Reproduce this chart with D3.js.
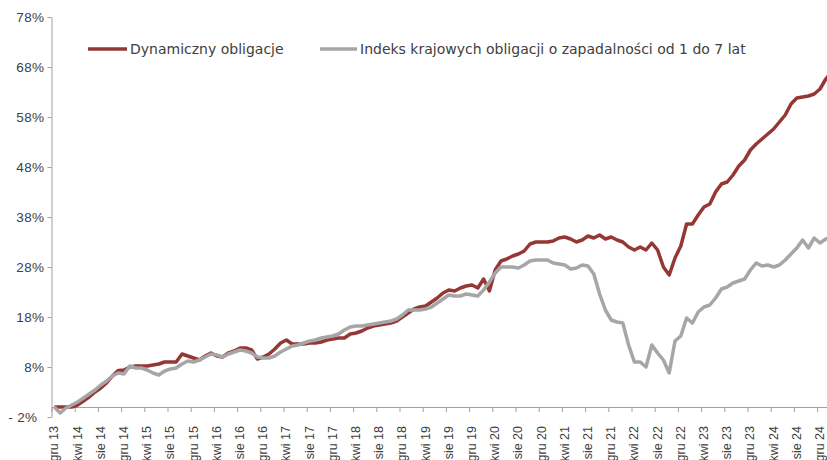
<!DOCTYPE html>
<html lang="pl">
<head>
    <meta charset="UTF-8">
    <title>Dynamiczny obligacje</title>
    <script type="text/javascript" src="https://cdn.jsdelivr.net/npm/d3@7"></script>
    <style>
        body { margin: 0; background: #fff; }
        svg { display: block; }
    </style>
</head>
<body>
    <script type="text/javascript">

        //Width and height
        var w = 827;
        var h = 460;

        //Seria: Dynamiczny obligacje (%), miesięcznie od gru 13
        var dynamiczny = [
            0, 0, 0, 0, 0.4, 1.2, 2.0, 3.0, 3.8, 4.8,
            6.2, 7.3, 7.4, 8.0, 8.2, 8.2, 8.2, 8.4, 8.6, 9.0,
            9.0, 9.0, 10.6, 10.2, 9.8, 9.4, 10.2, 10.8, 10.2, 10.0,
            10.8, 11.2, 11.8, 11.8, 11.4, 9.6, 10.0, 10.6, 11.6, 12.8,
            13.4, 12.6, 12.6, 12.6, 12.8, 12.8, 13.0, 13.4, 13.6, 13.8,
            13.8, 14.6, 14.8, 15.2, 15.8, 16.2, 16.4, 16.6, 16.8, 17.2,
            18.0, 18.8, 19.6, 20.0, 20.2, 21.0, 21.8, 22.8, 23.4, 23.2,
            23.8, 24.2, 24.4, 23.8, 25.6, 23.2, 27.4, 29.2, 29.6, 30.2,
            30.6, 31.2, 32.6, 33.0, 33.0, 33.0, 33.2, 33.8, 34.0, 33.6,
            33.0, 33.4, 34.2, 33.8, 34.4, 33.6, 34.0, 33.4, 33.0, 32.0,
            31.4, 32.0, 31.4, 32.8, 31.4, 28.0, 26.4, 29.8, 32.2, 36.6,
            36.6, 38.4, 40.0, 40.6, 43.0, 44.6, 45.0, 46.4, 48.2, 49.4,
            51.4, 52.6, 53.6, 54.6, 55.6, 57.0, 58.4, 60.6, 61.8, 62.0,
            62.2, 62.6, 63.6, 65.6, 67.0
        ];

        //Seria: Indeks krajowych obligacji o zapadalności od 1 do 7 lat (%)
        var indeks = [
            0, -1.2, -0.2, 0.4, 1.0, 1.8, 2.6, 3.4, 4.4, 5.2,
            6.2, 6.8, 6.6, 8.2, 7.8, 7.8, 7.4, 6.8, 6.4, 7.2,
            7.6, 7.8, 8.6, 9.2, 9.0, 9.4, 10.0, 10.6, 10.4, 10.0,
            10.6, 11.0, 11.4, 11.2, 10.8, 10.0, 9.8, 9.8, 10.2, 11.0,
            11.6, 12.2, 12.4, 12.8, 13.2, 13.4, 13.8, 14.0, 14.2, 14.6,
            15.4, 16.0, 16.2, 16.2, 16.4, 16.6, 16.8, 17.0, 17.2, 17.6,
            18.4, 19.4, 19.4, 19.4, 19.6, 20.0, 20.8, 21.6, 22.4, 22.2,
            22.2, 22.6, 22.4, 22.2, 23.4, 25.0, 26.8, 28.0, 28.0, 28.0,
            27.8, 28.4, 29.2, 29.4, 29.4, 29.4, 28.8, 28.6, 28.4, 27.6,
            27.8, 28.4, 28.2, 26.6, 22.6, 19.4, 17.4, 17.0, 16.8, 12.4,
            9.0, 9.0, 8.0, 12.4, 10.8, 9.4, 6.8, 13.2, 14.2, 17.8,
            16.8, 19.0, 20.0, 20.4, 21.8, 23.6, 24.0, 24.8, 25.2, 25.6,
            27.4, 28.8, 28.2, 28.4, 28.0, 28.4, 29.4, 30.6, 31.8, 33.4,
            31.8, 33.8, 32.8, 33.6, 34.0
        ];

        //Etykiety osi X (co 4 miesiące)
        var tickLabels = [
            "gru 13", "kwi 14", "sie 14", "gru 14", "kwi 15", "sie 15", "gru 15",
            "kwi 16", "sie 16", "gru 16", "kwi 17", "sie 17", "gru 17", "kwi 18",
            "sie 18", "gru 18", "kwi 19", "sie 19", "gru 19", "kwi 20", "sie 20",
            "gru 20", "kwi 21", "sie 21", "gru 21", "kwi 22", "sie 22", "gru 22",
            "kwi 23", "sie 23", "gru 23", "kwi 24", "sie 24", "gru 24"
        ];

        //Wartości osi Y
        var yTicks = [-2, 8, 18, 28, 38, 48, 58, 68, 78];

        var seriesNames = ["Dynamiczny obligacje", "Indeks krajowych obligacji o zapadalności od 1 do 7 lat"];
        var seriesColors = ["#953735", "#a6a6a6"];

        var n = dynamiczny.length;

        //Skale
        var xBand = d3.scaleBand()
                        .domain(d3.range(n))
                        .range([51.5, 51.5 + n * 5.8])
                        .paddingInner(0);

        var xEdge = d3.scaleLinear()
                        .domain([0, n])
                        .range([51.5, 51.5 + n * 5.8]);

        var yScale = d3.scaleLinear()
                        .domain([-2, 78])
                        .range([417, 17]);

        //Create SVG element
        var svg = d3.select("body")
                        .append("svg")
                        .attr("width", w)
                        .attr("height", h)
                        .style("font-family", "'DejaVu Sans', sans-serif");

        //Oś Y
        var yAxis = d3.axisLeft(yScale)
                        .tickValues(yTicks)
                        .tickSize(4)
                        .tickSizeOuter(0)
                        .tickPadding(3)
                        .tickFormat(function(d) {
                            return d < 0 ? "- " + Math.abs(d) + "%" : d + "%";
                        });

        var gy = svg.append("g")
                    .attr("transform", "translate(" + xEdge(0) + ",0)")
                    .call(yAxis);

        gy.selectAll("path, line").attr("stroke", "#a0a0a0");
        gy.selectAll("text")
            .attr("fill", "#404040")
            .attr("dx", function(d) { return d < 0 ? -7 : 0; })
            .style("font-family", "'Liberation Sans', Arial, sans-serif")
            .style("font-size", "13.5px")
            .style("letter-spacing", "0.4px");

        //Oś X (na poziomie 0%)
        var xAxis = d3.axisBottom(xEdge)
                        .tickValues(d3.range(0, n, 4))
                        .tickSize(5)
                        .tickSizeOuter(0)
                        .tickFormat(function(d) { return tickLabels[d / 4]; });

        var gx = svg.append("g")
                    .attr("transform", "translate(0," + yScale(0) + ")")
                    .call(xAxis);

        gx.selectAll("path, line").attr("stroke", "#a0a0a0");
        gx.selectAll("text")
            .attr("fill", "#404040")
            .style("font-family", "'Liberation Sans', Arial, sans-serif")
            .style("font-size", "12.5px")
            .style("text-anchor", "end")
            .attr("x", -19)
            .attr("y", 2)
            .attr("dy", "0.35em")
            .attr("transform", "rotate(-90)");

        //Linie
        var line = d3.line()
                        .x(function(d, i) { return xBand(i) + xBand.bandwidth() / 2; })
                        .y(function(d) { return yScale(d); });

        [dynamiczny, indeks].forEach(function(series, k) {
            svg.append("path")
                .datum(series)
                .attr("fill", "none")
                .attr("stroke", seriesColors[k])
                .attr("stroke-width", 3.5)
                .attr("stroke-linejoin", "round")
                .attr("d", line);
        });

        //Legenda
        var legendX = [88, 320];
        var legend = svg.selectAll(".legend")
                        .data(seriesNames)
                        .enter()
                        .append("g")
                        .attr("class", "legend")
                        .attr("transform", function(d, i) {
                            return "translate(" + legendX[i] + ",49)";
                        });

        legend.append("line")
            .attr("x1", 0)
            .attr("x2", function(d, i) { return i === 0 ? 39 : 37; })
            .attr("stroke", function(d, i) { return seriesColors[i]; })
            .attr("stroke-width", 3.5);

        legend.append("text")
            .attr("x", function(d, i) { return i === 0 ? 42 : 40; })
            .attr("dy", "0.35em")
            .attr("fill", "#404040")
            .style("font-size", "14px")
            .text(function(d) { return d; });

    </script>
</body>
</html>
